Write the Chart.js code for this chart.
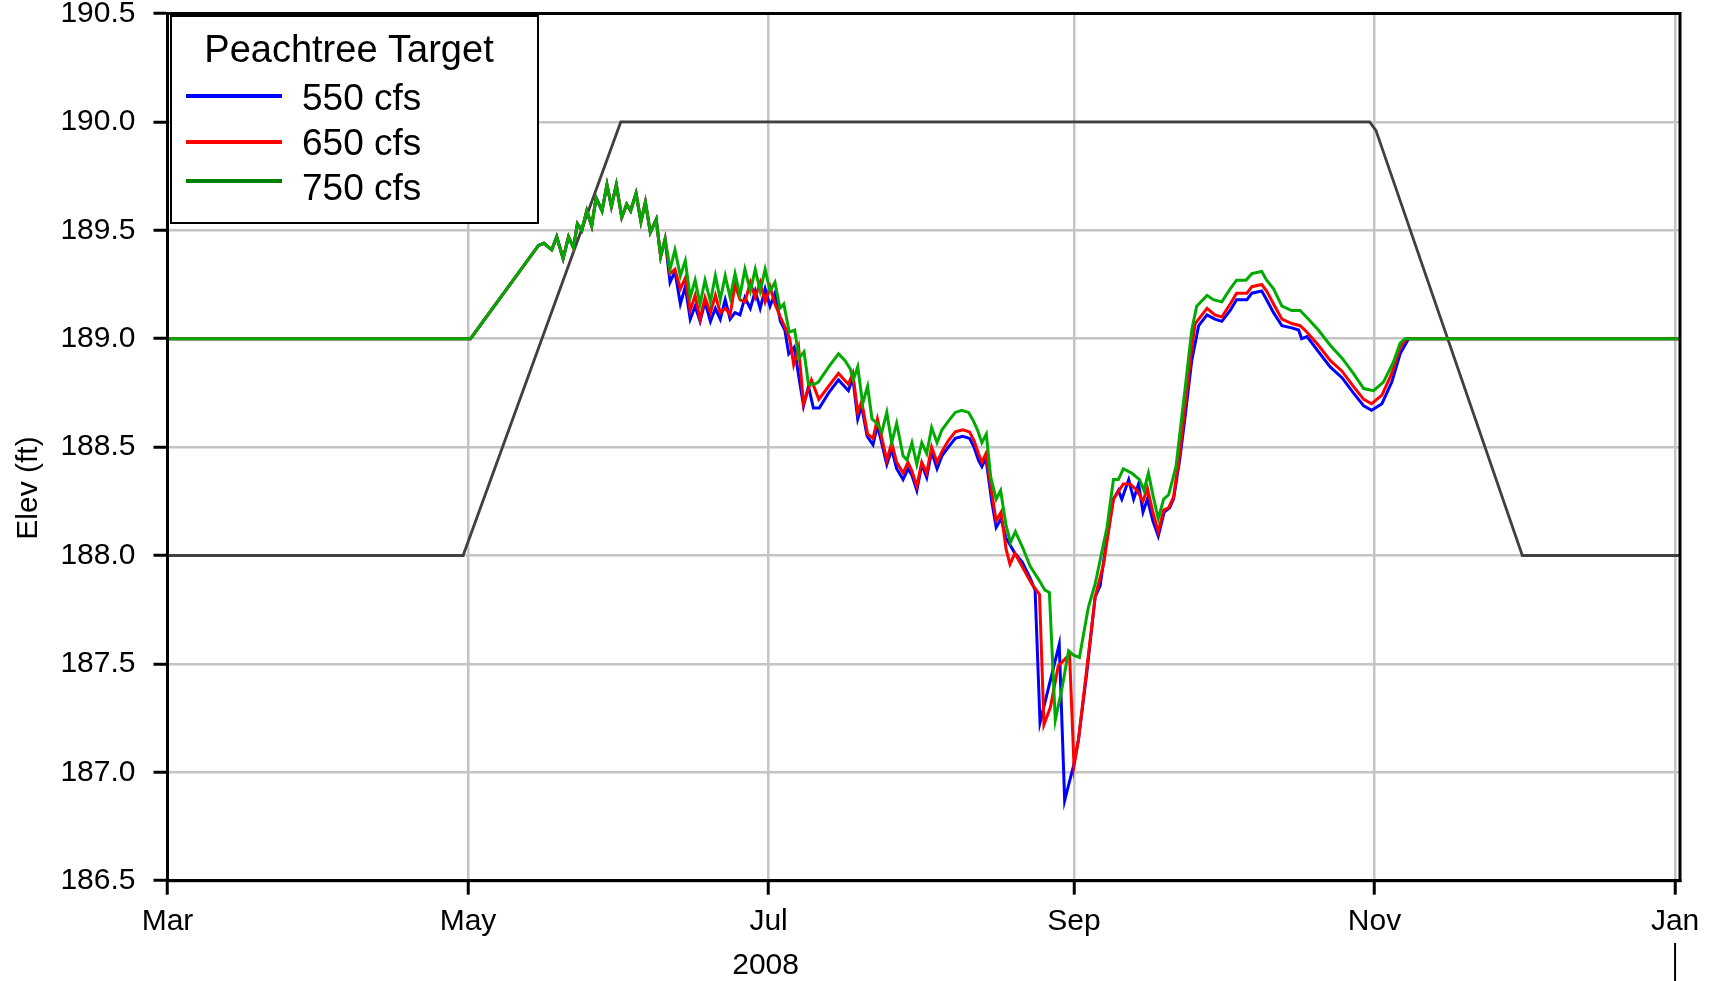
<!DOCTYPE html>
<html>
<head>
<meta charset="utf-8">
<script src="https://cdn.jsdelivr.net/npm/chart.js@4.4.1/dist/chart.umd.min.js"></script>
<style>
  html, body { margin: 0; padding: 0; background: #fff; }
</style>
</head>
<body>
<canvas id="elevChart" width="1713" height="981"></canvas>
<script>
// x values are days counted from 1 Mar 2008
const monthTickDays = [0, 61, 122, 184, 245, 306];
const monthTickLabels = ['Mar', 'May', 'Jul', 'Sep', 'Nov', 'Jan'];
const yearLabel = '2008';
const yearLabelDay = 121.4;
const yearEndDay = 306;

const yTitle = 'Elev (ft)';
const legendTitle = 'Peachtree Target';
const seriesLabels = ['550 cfs', '650 cfs', '750 cfs'];

const targetDays = [0, 60, 92, 244, 245.3, 275, 307];
const targetElev = [188.0, 188.0, 190.0, 190.0, 189.96, 188.0, 188.0];

// the three flows give the same pool until late June
const commonDays = [0, 61.5, 75.3, 76.4, 78.0, 79.0, 80.3, 81.4, 82.4, 83.2, 84.1, 85.1, 86.1, 87.0, 88.2, 89.2, 90.1, 91.1, 92.2, 93.2, 94.0, 95.1, 96.1, 97.0, 98.0, 99.2, 100.1, 101.0];
const commonElev = [189.00, 189.00, 189.43, 189.44, 189.41, 189.47, 189.37, 189.47, 189.42, 189.53, 189.50, 189.59, 189.52, 189.65, 189.59, 189.71, 189.61, 189.71, 189.56, 189.62, 189.59, 189.67, 189.54, 189.63, 189.49, 189.55, 189.38, 189.46];

const days550 = [102.0, 103.0, 104.1, 105.1, 106.1, 107.1, 108.1, 109.1, 110.2, 111.2,
  112.2, 113.2, 114.2, 115.2, 116.2, 117.2, 118.3, 119.3, 120.3, 121.3,
  122.3, 123.3, 124.4, 125.3, 126.1, 127.2, 128.1, 129.1, 130.1, 131.1,
  132.3, 134.2, 136.2, 138.2, 139.1, 140.1, 140.9, 142.0, 143.2, 144.1,
  146.0, 147.0, 148.0, 149.3, 150.3, 151.1, 152.1, 153.1, 154.1, 155.1,
  156.2, 157.2, 158.5, 159.9, 161.4, 162.8, 163.7, 164.6, 165.3, 166.1,
  167.3, 168.2, 169.2, 170.2, 171.0, 172.0, 173.5, 175.0, 176.1, 177.1,
  181.0, 182.1, 183.9, 184.9, 186.6, 188.3, 189.3, 190.5, 192.0, 193.0,
  193.7, 195.1, 196.1, 197.1, 198.0, 198.9, 200.0, 201.1, 202.3, 203.4,
  204.2, 205.5, 206.6, 207.9, 209.3, 211.0, 212.6, 214.0, 215.7, 217.0,
  219.1, 220.1, 222.1, 223.1, 224.5, 226.2, 228.2, 229.6, 230.2, 231.3,
  233.6, 236.0, 238.4, 240.7, 242.8, 244.4, 246.5, 248.5, 250.2, 251.9,
  307];
const elev550 = [189.26, 189.31, 189.16, 189.24, 189.09, 189.15, 189.08, 189.17, 189.08, 189.14,
  189.09, 189.18, 189.09, 189.12, 189.11, 189.19, 189.14, 189.22, 189.14, 189.23,
  189.15, 189.21, 189.08, 189.04, 188.93, 188.96, 188.83, 188.69, 188.78, 188.68,
  188.68, 188.75, 188.81, 188.76, 188.82, 188.63, 188.69, 188.55, 188.51, 188.60,
  188.42, 188.49, 188.40, 188.35, 188.40, 188.37, 188.30, 188.42, 188.36, 188.48,
  188.40, 188.46, 188.50, 188.54, 188.55, 188.54, 188.50, 188.44, 188.41, 188.45,
  188.25, 188.13, 188.17, 188.08, 188.05, 188.01, 187.97, 187.90, 187.84, 187.23,
  187.59, 186.87, 187.03, 187.15, 187.46, 187.81, 187.86, 188.05, 188.26, 188.30,
  188.26, 188.35, 188.26, 188.33, 188.20, 188.26, 188.16, 188.09, 188.20, 188.22,
  188.26, 188.45, 188.65, 188.90, 189.06, 189.11, 189.09, 189.08, 189.13, 189.18,
  189.18, 189.21, 189.22, 189.18, 189.12, 189.06, 189.05, 189.04, 189.00, 189.01,
  188.94, 188.87, 188.82, 188.75, 188.69, 188.67, 188.70, 188.80, 188.93, 189.00,
  189.00];

const days650 = [102.0, 103.0, 104.1, 105.1, 106.1, 107.1, 108.1, 109.1, 110.2, 111.2,
  112.2, 113.2, 114.2, 115.2, 116.2, 117.2, 118.3, 119.3, 120.3, 121.3,
  122.3, 123.3, 124.4, 125.4, 126.3, 127.1, 128.1, 129.1, 130.7, 132.2,
  134.5, 136.2, 138.2, 139.1, 140.1, 140.9, 142.1, 143.2, 144.1, 146.0,
  147.0, 148.0, 149.3, 150.3, 151.1, 152.1, 153.1, 154.1, 155.1, 156.2,
  157.2, 158.5, 159.9, 161.4, 162.8, 163.7, 164.6, 165.3, 166.1, 167.3,
  168.2, 169.2, 170.2, 171.0, 172.0, 173.7, 175.4, 177.0, 177.9, 179.2,
  180.8, 182.5, 183.1, 184.0, 184.9, 186.6, 188.3, 190.0, 192.0, 194.0,
  195.4, 196.8, 198.0, 198.9, 200.0, 201.1, 202.2, 203.2, 204.2, 205.5,
  206.6, 207.9, 208.6, 211.0, 212.6, 214.0, 215.7, 217.0, 219.1, 220.1,
  222.1, 223.1, 224.5, 226.2, 228.2, 229.9, 231.3, 233.6, 236.0, 238.4,
  240.7, 242.8, 244.4, 246.5, 248.5, 250.2, 251.5, 307];
const elev650 = [189.30, 189.32, 189.23, 189.28, 189.13, 189.20, 189.09, 189.19, 189.12, 189.20,
  189.12, 189.14, 189.11, 189.25, 189.18, 189.17, 189.26, 189.19, 189.26, 189.17,
  189.24, 189.16, 189.10, 189.05, 189.00, 188.88, 188.96, 188.70, 188.81, 188.72,
  188.79, 188.84, 188.79, 188.84, 188.66, 188.71, 188.56, 188.54, 188.63, 188.44,
  188.52, 188.43, 188.38, 188.43, 188.39, 188.32, 188.43, 188.38, 188.50, 188.43,
  188.48, 188.53, 188.57, 188.58, 188.57, 188.53, 188.47, 188.43, 188.47, 188.29,
  188.16, 188.20, 188.03, 187.96, 188.01, 187.94, 187.87, 187.82, 187.22, 187.30,
  187.49, 187.53, 187.54, 187.03, 187.15, 187.48, 187.81, 187.96, 188.26, 188.33,
  188.33, 188.30, 188.25, 188.31, 188.20, 188.11, 188.21, 188.22, 188.27, 188.48,
  188.70, 188.96, 189.07, 189.14, 189.11, 189.10, 189.16, 189.21, 189.21, 189.24,
  189.25, 189.22, 189.16, 189.09, 189.07, 189.06, 189.03, 188.97, 188.90, 188.85,
  188.78, 188.72, 188.70, 188.74, 188.84, 188.96, 189.00, 189.00];

const days750 = [102.0, 103.0, 104.1, 105.1, 106.1, 107.1, 108.1, 109.1, 110.2, 111.2,
  112.2, 113.2, 114.2, 115.2, 116.2, 117.2, 118.3, 119.3, 120.3, 121.3,
  122.3, 123.3, 124.3, 125.1, 126.2, 127.3, 128.2, 129.2, 130.1, 131.3,
  132.1, 134.2, 136.2, 137.5, 138.6, 139.2, 140.1, 141.1, 142.1, 143.0,
  144.0, 145.0, 146.0, 147.0, 148.0, 149.3, 150.1, 151.1, 152.1, 153.1,
  154.1, 155.1, 156.2, 157.2, 158.5, 159.9, 161.2, 162.6, 163.6, 164.4,
  165.3, 166.2, 167.1, 168.2, 169.1, 170.2, 171.1, 172.1, 173.7, 175.1,
  176.8, 178.1, 179.0, 180.2, 181.5, 182.9, 183.9, 185.1, 186.9, 188.3,
  190.7, 192.0, 193.0, 194.0, 195.7, 197.3, 198.2, 199.1, 200.1, 201.1,
  202.2, 203.2, 204.7, 206.6, 207.9, 208.9, 211.0, 212.3, 214.0, 215.7,
  217.0, 218.9, 220.1, 222.1, 223.1, 224.5, 226.2, 228.2, 229.9, 231.6,
  233.6, 236.0, 238.4, 240.7, 242.8, 244.8, 246.8, 248.8, 250.2, 251.2,
  307];
const elev750 = [189.32, 189.41, 189.29, 189.36, 189.19, 189.27, 189.16, 189.27, 189.17, 189.29,
  189.18, 189.29, 189.19, 189.30, 189.20, 189.32, 189.22, 189.32, 189.22, 189.32,
  189.22, 189.26, 189.14, 189.16, 189.03, 189.04, 188.91, 188.94, 188.79, 188.79,
  188.80, 188.87, 188.93, 188.90, 188.86, 188.81, 188.87, 188.70, 188.78, 188.63,
  188.61, 188.57, 188.66, 188.52, 188.61, 188.46, 188.44, 188.52, 188.42, 188.52,
  188.47, 188.59, 188.52, 188.58, 188.62, 188.66, 188.67, 188.66, 188.62, 188.58,
  188.52, 188.56, 188.36, 188.26, 188.30, 188.14, 188.06, 188.11, 188.03, 187.95,
  187.89, 187.84, 187.83, 187.24, 187.38, 187.56, 187.54, 187.53, 187.76, 187.87,
  188.13, 188.35, 188.35, 188.40, 188.38, 188.35, 188.30, 188.38, 188.27, 188.17,
  188.26, 188.28, 188.41, 188.78, 189.04, 189.15, 189.20, 189.18, 189.17, 189.23,
  189.27, 189.27, 189.30, 189.31, 189.27, 189.23, 189.15, 189.13, 189.13, 189.09,
  189.04, 188.97, 188.91, 188.84, 188.77, 188.76, 188.80, 188.89, 188.98, 189.00,
  189.00];

const FONT = '"Liberation Sans", Arial, Helvetica, sans-serif';
const seriesColors = ['#0000ff', '#ff0000', '#00aa00'];
const legendColors = ['#0000ff', '#ff0000', '#008000'];

function toPoints(days, elev) {
  return days.map((d, i) => ({ x: d, y: elev[i] }));
}

const pts550 = toPoints(commonDays.concat(days550), commonElev.concat(elev550));
const pts650 = toPoints(commonDays.concat(days650), commonElev.concat(elev650));
const pts750 = toPoints(commonDays.concat(days750), commonElev.concat(elev750));
const ptsTarget = toPoints(targetDays, targetElev);

// frame, boxed legend in the corner, axis title and year caption
const extras = {
  id: 'extras',
  afterDraw(chart) {
    const { ctx, chartArea: a } = chart;
    const x = chart.scales.x;
    ctx.save();

    ctx.strokeStyle = '#000';
    ctx.lineWidth = 3;
    ctx.strokeRect(a.left, a.top, a.right - a.left, a.bottom - a.top);

    const bx = a.left + 3.5, by = a.top + 2.5, bw = 367, bh = 207;
    ctx.fillStyle = '#fff';
    ctx.fillRect(bx, by, bw, bh);
    ctx.lineWidth = 2;
    ctx.strokeRect(bx, by, bw, bh);

    ctx.fillStyle = '#000';
    ctx.font = '38px ' + FONT;
    ctx.textAlign = 'center';
    ctx.textBaseline = 'alphabetic';
    ctx.fillText(legendTitle, bx + 178, by + 46);

    const lineY = [96, 142, 181];
    const textY = [110, 155, 200];
    ctx.font = '37px ' + FONT;
    ctx.textAlign = 'left';
    seriesLabels.forEach((lab, i) => {
      ctx.strokeStyle = legendColors[i];
      ctx.lineWidth = 4;
      ctx.beginPath();
      ctx.moveTo(bx + 15, lineY[i]);
      ctx.lineTo(bx + 111, lineY[i]);
      ctx.stroke();
      ctx.fillStyle = '#000';
      ctx.fillText(lab, bx + 131, textY[i]);
    });

    ctx.font = '30px ' + FONT;
    ctx.textAlign = 'center';
    ctx.textBaseline = 'middle';
    ctx.fillText(yearLabel, x.getPixelForValue(yearLabelDay), 966);

    ctx.save();
    ctx.translate(28.5, 488);
    ctx.rotate(-Math.PI / 2);
    ctx.fillText(yTitle, 0, 0);
    ctx.restore();

    const xe = x.getPixelForValue(yearEndDay);
    ctx.strokeStyle = '#000';
    ctx.lineWidth = 2;
    ctx.beginPath();
    ctx.moveTo(xe, 943);
    ctx.lineTo(xe, 981);
    ctx.stroke();
    ctx.restore();
  }
};

const line = (label, data, color, width, order) => ({
  label, data,
  borderColor: color,
  borderWidth: width,
  pointRadius: 0,
  tension: 0,
  fill: false,
  order
});

const gridStyle = { color: '#c4c4c4', lineWidth: 2.5, tickColor: '#000', tickWidth: 3, tickLength: 14 };

new Chart(document.getElementById('elevChart'), {
  type: 'line',
  data: {
    datasets: [
      line('Target', ptsTarget, '#404040', 2.8, 4),
      line(seriesLabels[0], pts550, seriesColors[0], 3, 3),
      line(seriesLabels[1], pts650, seriesColors[1], 3, 2),
      line(seriesLabels[2], pts750, seriesColors[2], 3, 1)
    ]
  },
  options: {
    responsive: false,
    animation: false,
    layout: { padding: { left: 0, top: 13.5, right: 33, bottom: 0 } },
    plugins: { legend: { display: false }, tooltip: { enabled: false } },
    scales: {
      x: {
        type: 'linear',
        min: 0,
        max: 307,
        afterBuildTicks: (s) => { s.ticks = monthTickDays.map(v => ({ value: v })); },
        afterFit: (s) => { s.height = 100.3; s.paddingLeft = 0; s.paddingRight = 0; },
        ticks: {
          autoSkip: false,
          maxRotation: 0,
          padding: 9.5,
          color: '#000',
          font: { family: FONT, size: 30 },
          callback: (v, i) => monthTickLabels[i]
        },
        grid: gridStyle,
        border: { color: '#000', width: 3 }
      },
      y: {
        min: 186.5,
        max: 190.5,
        afterFit: (s) => { s.width = 167.5; s.paddingTop = 0; s.paddingBottom = 0; },
        ticks: {
          stepSize: 0.5,
          padding: 18,
          color: '#000',
          font: { family: FONT, size: 30 },
          callback: (v) => v.toFixed(1)
        },
        grid: gridStyle,
        border: { color: '#000', width: 3 }
      }
    }
  },
  plugins: [extras]
});
</script>
</body>
</html>
